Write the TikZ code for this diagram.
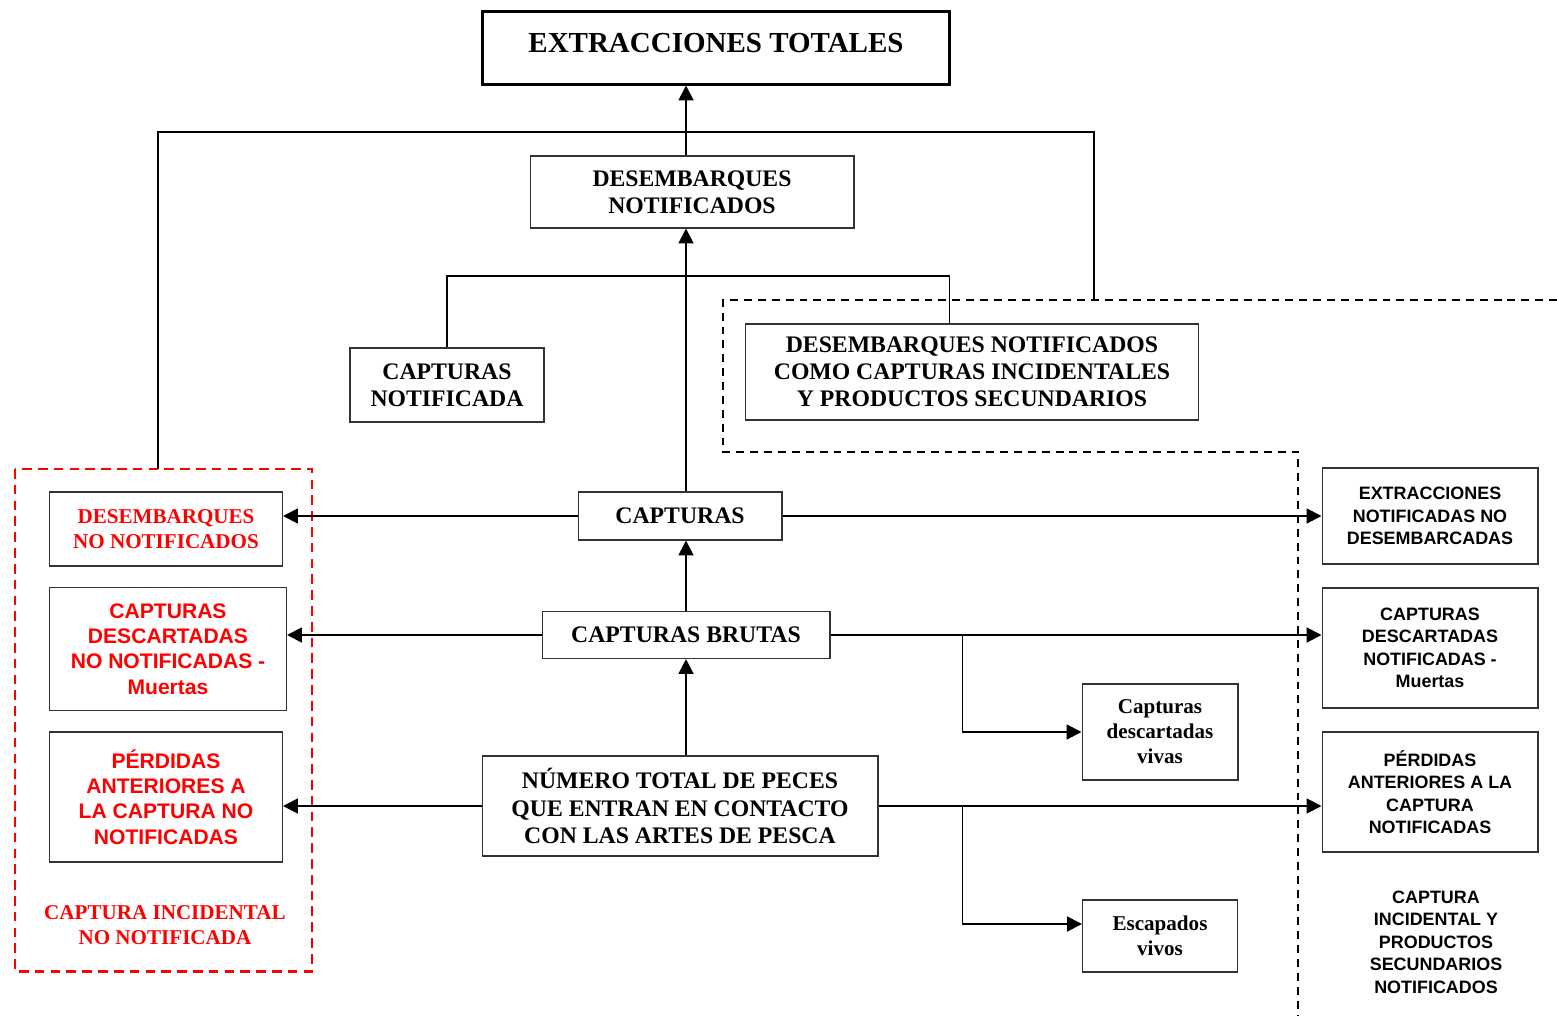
\documentclass[tikz,border=0pt]{standalone}
\usepackage{fontspec}
\setmainfont{Liberation Serif}
\setsansfont{Liberation Sans}
\usepackage{xcolor}
\usepackage{tikz}
\usetikzlibrary{arrows.meta}

\newcommand{\letratitulo}{\fontsize{16.5}{19}\selectfont\bfseries}
\newcommand{\letracaja}{\fontsize{13.5}{15.5}\selectfont\bfseries}
\newcommand{\letraroja}{\fontsize{12}{14.2}\selectfont\bfseries}
\newcommand{\letrasans}{\fontsize{12}{14.4}\selectfont\sffamily\bfseries}
\newcommand{\letrachica}{\fontsize{10.2}{12.8}\selectfont\sffamily\bfseries}

\begin{document}
\begin{tikzpicture}[x=0.02cm,y=-0.02cm,-,semithick]
	\tikzstyle{caja}=[draw=black!80, line width=0.6pt, align=center, inner sep=0pt, font=\letracaja]
	\tikzstyle{cajaroja}=[caja, text=red]
	\tikzstyle{cajasans}=[caja, font=\letrachica, minimum width=4.32cm]
	\tikzstyle{flecha}=[-{Triangle[length=8.5pt,width=8.5pt]}, line width=1.1pt]
	\tikzstyle{linea}=[line width=1.1pt]
	\useasboundingbox (0,0) rectangle (1557,1016);

	% zonas punteadas
	\draw[red, line width=1.7pt, dash pattern=on 5.5pt off 3.5pt] (15,469) rectangle (312,971);
	\draw[line width=1.6pt, dash pattern=on 4.5pt off 3.4pt] (1557,300) -- (723,300) -- (723,452) -- (1298,452) -- (1298,1016);

	% centro
	\node[caja, draw=black, line width=1.7pt, minimum width=9.36cm, text height=22.8pt, text depth=18.2pt, font=\letratitulo] (total) at (716,48) {EXTRACCIONES TOTALES};
	\node[caja, minimum width=6.48cm, minimum height=1.44cm] (desnot) at (692,192) {DESEMBARQUES\\NOTIFICADOS};
	\node[caja, minimum width=3.88cm, minimum height=1.48cm] (capnot) at (447,385) {CAPTURAS\\NOTIFICADA};
	\node[caja, minimum width=9.06cm, minimum height=1.92cm] (descomo) at (972,372) {DESEMBARQUES NOTIFICADOS\\COMO CAPTURAS INCIDENTALES\\Y PRODUCTOS SECUNDARIOS};
	\node[caja, minimum width=4.08cm, minimum height=0.96cm] (capturas) at (680,516) {CAPTURAS};
	\node[caja, minimum width=5.76cm, minimum height=0.94cm] (brutas) at (686,635) {CAPTURAS BRUTAS};
	\node[caja, minimum width=7.92cm, minimum height=2cm] (numero) at (680,806) {NÚMERO TOTAL DE PECES\\QUE ENTRAN EN CONTACTO\\CON LAS ARTES DE PESCA};

	% izquierda, no notificado
	\node[cajaroja, font=\letraroja, minimum width=4.66cm, minimum height=1.48cm] (desnonot) at (166,529) {DESEMBARQUES\\NO NOTIFICADOS};
	\node[cajaroja, font=\letrasans, minimum width=4.74cm, minimum height=2.46cm] (descnonot) at (168,649) {CAPTURAS\\DESCARTADAS\\NO NOTIFICADAS -\\Muertas};
	\node[cajaroja, font=\letrasans, minimum width=4.66cm, minimum height=2.6cm] (perdnonot) at (166,797) {PÉRDIDAS\\ANTERIORES A\\LA CAPTURA NO\\NOTIFICADAS};
	\node[align=center, text=red, font=\letraroja] (incnonot) at (165,925) {CAPTURA INCIDENTAL\\NO NOTIFICADA};

	% derecha, notificado
	\node[cajasans, minimum height=1.92cm] (extnot) at (1430,516) {EXTRACCIONES\\NOTIFICADAS NO\\DESEMBARCADAS};
	\node[cajasans, minimum height=2.4cm] (descnot) at (1430,648) {CAPTURAS\\DESCARTADAS\\NOTIFICADAS -\\Muertas};
	\node[cajasans, minimum height=2.4cm] (perdnot) at (1430,792) {PÉRDIDAS\\ANTERIORES A LA\\CAPTURA\\NOTIFICADAS};
	\node[align=center, font=\letrachica] (incnot) at (1436,942) {CAPTURA\\INCIDENTAL Y\\PRODUCTOS\\SECUNDARIOS\\NOTIFICADOS};

	% vivos
	\node[caja, font=\letraroja, minimum width=3.12cm, minimum height=1.92cm] (vivas) at (1160,732) {Capturas\\descartadas\\vivas};
	\node[caja, font=\letraroja, minimum width=3.1cm, minimum height=1.44cm] (escap) at (1160,936) {Escapados\\vivos};

	% conexiones
	\coordinate (rojoTop) at (158,469);
	\coordinate (negroTop) at (1094,300);
	\coordinate (cruce) at (686,132);
	\coordinate (cruce2) at (686,276);
	\draw[linea] (rojoTop) |- (cruce) -| (negroTop);
	\draw[linea] (capnot.north) |- (cruce2) -| ([xshift=-0.45cm]descomo.north);

	\draw[flecha] (desnot.north -| brutas) -- (total.south -| brutas);
	\draw[flecha] (capturas.north -| brutas) -- (desnot.south -| brutas);
	\draw[flecha] (brutas.north) -- (capturas.south -| brutas);
	\draw[flecha] (numero.north -| brutas) -- (brutas.south);

	\draw[flecha] (capturas.west) -- (capturas.west -| desnonot.east);
	\draw[flecha] (capturas.east) -- (capturas.east -| extnot.west);
	\draw[flecha] (brutas.west) -- (brutas.west -| descnonot.east);
	\draw[flecha] (brutas.east) -- (brutas.east -| descnot.west);
	\draw[flecha] (numero.west) -- (numero.west -| perdnonot.east);
	\draw[flecha] (numero.east) -- (numero.east -| perdnot.west);

	\draw[flecha] (brutas.east) ++(132,0) |- (vivas.west);
	\draw[flecha] (numero.east) ++(84,0) |- ([yshift=0.24cm]escap.west);
\end{tikzpicture}
\end{document}
